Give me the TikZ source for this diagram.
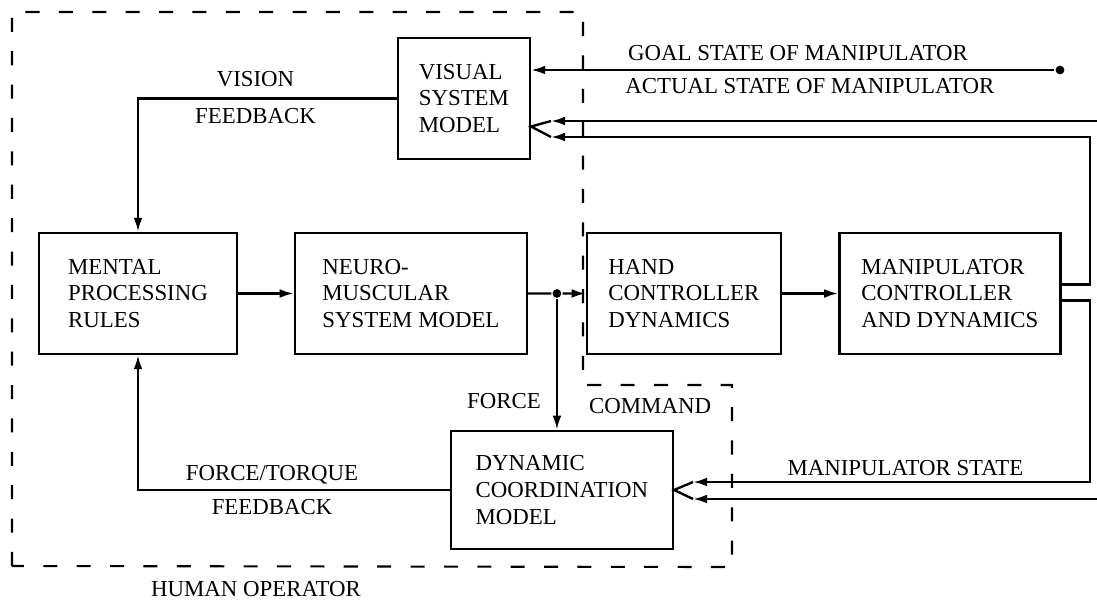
\documentclass[tikz,border=0pt]{standalone}
\usepackage{fontspec}
\setmainfont{Liberation Serif}
\usepackage{tikz}
\usetikzlibrary{positioning,arrows.meta,calc}

\begin{document}
\begin{tikzpicture}[x=0.02cm,y=-0.02cm,node distance=5.46cm,line width=1.35pt,
  font=\fontsize{13}{15.2}\selectfont,>={Latex[length=8pt,width=5pt]},
  block node/.style={draw,align=left,minimum height=2.42cm},
  label node/.style={inner sep=0.1cm},
  junction/.style={circle,fill,inner sep=0pt,minimum size=5pt},
  boundary/.style={line width=1.2pt,dash pattern=on 8pt off 11pt}]
\useasboundingbox (0,0) rectangle (1097,602);
\node[block node,minimum width=3.96cm] (mental) at (138,293.5) {MENTAL\\PROCESSING\\RULES};
\node[block node,minimum width=4.64cm] (neuro) [right of=mental] {NEURO-\\MUSCULAR\\SYSTEM MODEL};
\node[block node,minimum width=3.88cm] (hand) [right of=neuro] {HAND\\CONTROLLER\\DYNAMICS};
\node[block node,minimum width=4.42cm] (manip) [node distance=5.32cm,right of=hand] {MANIPULATOR\\CONTROLLER\\AND DYNAMICS};
\node[block node,minimum width=2.64cm] (visual) [node distance=3.9cm,above of=neuro,xshift=1.06cm] {VISUAL\\SYSTEM\\MODEL};
\node[block node,minimum width=4.44cm,minimum height=2.36cm] (dyn) [node distance=3.93cm,below of=hand,xshift=-2.44cm] {DYNAMIC\\COORDINATION\\MODEL};

\draw[boundary] (12,566) -- (12,12) -- (583,12) -- (583,385) coordinate (notch) -- (732,385) -- (732,567) -- cycle;
\node[label node,below right=0.14cm and 0cm] (command) at (notch) {COMMAND};
\node[label node] (human) at (256,589) {HUMAN OPERATOR};

\node[junction] (split) at ($(neuro.east)!0.5!(hand.west)$) {};
\node[junction] (goal) at (1060,70) {};
\coordinate (vin) at ($(visual.east)+(0,28)$);
\coordinate (din) at (dyn.east);
\coordinate (fromA) at (1097,121);
\coordinate (fromB) at (1097,499);
\coordinate (turnA) at (1090,137);
\coordinate (turnB) at (1090,482);
\coordinate (tipA) at (551,121);
\coordinate (tipB) at (551,137);
\coordinate (tipC) at (693,482);
\coordinate (tipD) at (693,499);

\path[draw,->] (mental) edge (neuro)
  (split) edge (hand)
  (hand) edge (manip);
\draw (neuro) -- (split);
\draw[->] (split) -- node[label node,pos=0.78,left=0.2cm]{FORCE} (split |- dyn.north);
\draw[->] (visual.west) -| node[label node,pos=0.273,above=0.11cm]{VISION} node[label node,pos=0.273,below=0.07cm]{FEEDBACK} (mental.north);
\draw[->] (dyn.west) -| node[label node,pos=0.285,above]{FORCE/TORQUE} node[label node,pos=0.285,below=0.06cm]{FEEDBACK} (mental.south);
\draw[->] (goal) -- node[label node,pos=0.49,above=0.06cm]{GOAL STATE OF MANIPULATOR} (goal -| visual.east);
\draw[->] (fromA) -- node[label node,pos=0.526,above=0.42cm]{ACTUAL STATE OF MANIPULATOR} (tipA);
\draw[->] ($(manip.east)+(0,-9)$) -| (turnA) -- (tipB);
\draw (tipA) -- (vin) -- (tipB);
\draw[->] ($(manip.east)+(0,7)$) -| (turnB) -- node[label node,pos=0.465,above]{MANIPULATOR STATE} (tipC);
\draw[->] (fromB) -- (tipD);
\draw (tipC) -- (din) -- (tipD);
\end{tikzpicture}
\end{document}
